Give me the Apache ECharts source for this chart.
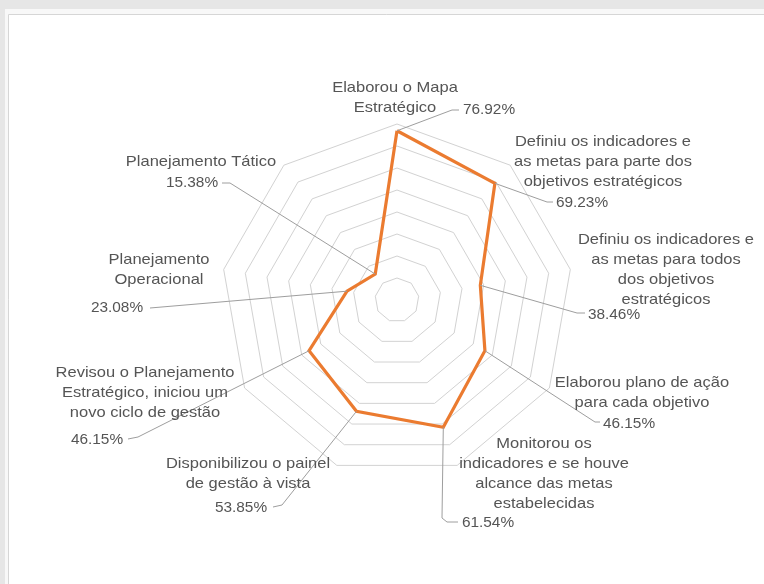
<!DOCTYPE html>
<html><head><meta charset="utf-8">
<script src="https://cdn.jsdelivr.net/npm/echarts@6/dist/echarts.min.js"></script>
<style>html,body{margin:0;padding:0;background:#e6e6e6}#c{width:764px;height:584px}</style>
</head><body><div id="c"></div>
<script>
// Data (clockwise from top)
const categories = [
  'Elaborou o Mapa\nEstratégico',
  'Definiu os indicadores e\nas metas para parte dos\nobjetivos estratégicos',
  'Definiu os indicadores e\nas metas para todos\ndos objetivos\nestratégicos',
  'Elaborou plano de ação\npara cada objetivo',
  'Monitorou os\nindicadores e se houve\nalcance das metas\nestabelecidas',
  'Disponibilizou o painel\nde gestão à vista',
  'Revisou o Planejamento\nEstratégico, iniciou um\nnovo ciclo de gestão',
  'Planejamento\nOperacional',
  'Planejamento Tático'
];
const values = [76.92, 69.23, 38.46, 46.15, 61.54, 53.85, 46.15, 23.08, 15.38];
const axisMax = 80;
const ringCount = 8;

// Layout (label positions, leader line bends)
const nameLayout = [[395,98],[603,162],[666,270],[642,393],[544,474],[248,474],[145,393],[159,270],[201,162]];
const pctLayout  = [[489,110],[582,203],[614,315],[629,424],[488,523],[241,508],[97,440],[117,308],[192,183]];
const leaderLayout = [
  [[452,110],[459,110]],
  [[547,202],[553,202]],
  [[577,313],[585,313]],
  [[595,422],[600,422]],
  [[442,518],[447,522],[458,522]],
  [[282,505],[273,507]],
  [[138,437],[128,439]],
  [[150,308]],
  [[230,183],[222,183]]
];
const CX = 397, CY = 300, R = 176;

const n = categories.length;
// radar indicators run counter-clockwise; reorder so that reading is clockwise
const order = [0];
for (let k = n - 1; k >= 1; k--) order.push(k);
const indicator = order.map(i => ({ name: categories[i], min: 0, max: axisMax }));
const radarValues = order.map(i => values[i]);

const font = '"Liberation Sans", Arial, sans-serif';
const chart = echarts.init(document.getElementById('c'));
chart.setOption({
  animation: false,
  graphic: [
    { type: 'rect', z: -20, silent: true, shape: { x: 5, y: 9, width: 762, height: 580 }, style: { fill: '#f8f8f8' } },
    { type: 'rect', z: -19, silent: true, shape: { x: 8.5, y: 14.5, width: 760, height: 575 }, style: { fill: '#ffffff', stroke: '#d6d6d6', lineWidth: 1 } }
  ],
  radar: {
    center: [CX, CY],
    radius: R,
    startAngle: 90,
    shape: 'polygon',
    splitNumber: ringCount,
    indicator: indicator,
    axisName: { show: false },
    axisLine: { show: false },
    axisTick: { show: false },
    axisLabel: { show: false },
    splitArea: { show: false },
    splitLine: { lineStyle: { color: '#d2d2d2', width: 1 } }
  },
  polar: { center: [CX, CY], radius: R },
  angleAxis: { type: 'value', min: 0, max: 360, startAngle: 90, clockwise: true, show: false },
  radiusAxis: { type: 'value', min: 0, max: axisMax, show: false },
  series: [
    {
      type: 'radar',
      symbol: 'none',
      z: 3,
      lineStyle: { color: '#EB7B30', width: 3.2, join: 'miter' },
      data: [{ value: radarValues }]
    },
    {
      type: 'custom',
      coordinateSystem: 'polar',
      silent: true,
      clip: false,
      z: 4,
      data: values.map((v, i) => [v, i * 360 / n]),
      renderItem: function (params, api) {
        const i = params.dataIndex;
        const p = api.coord([api.value(0), api.value(1)]);
        const pts = [p].concat(leaderLayout[i]);
        return {
          type: 'group',
          children: [
            { type: 'polyline', shape: { points: pts }, style: { stroke: '#9e9e9e', lineWidth: 1, fill: null } },
            { type: 'text', x: nameLayout[i][0], y: nameLayout[i][1], scaleX: 1.1,
              style: { x: 0, y: 0, text: categories[i], textAlign: 'center', textVerticalAlign: 'middle',
                       font: '15px ' + font, lineHeight: 20, fill: '#555555' } },
            { type: 'text', x: pctLayout[i][0], y: pctLayout[i][1], scaleX: 1.1,
              style: { x: 0, y: 0, text: values[i].toFixed(2) + '%', textAlign: 'center', textVerticalAlign: 'middle',
                       font: '14px ' + font, fill: '#555555' } }
          ]
        };
      }
    }
  ]
});
</script></body></html>
